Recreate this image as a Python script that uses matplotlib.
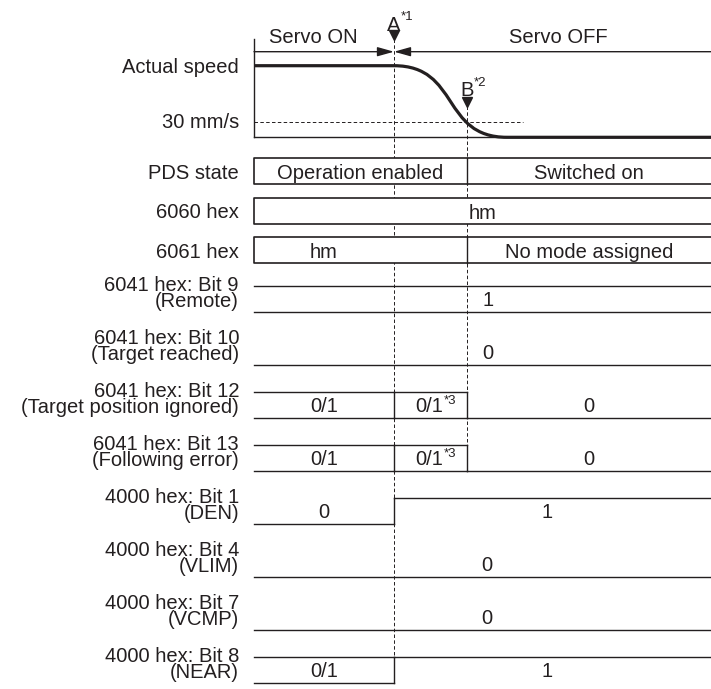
import matplotlib.pyplot as plt
from matplotlib.path import Path
from matplotlib.patches import PathPatch, Rectangle

plt.rcParams['font.family'] = ['Liberation Sans', 'DejaVu Sans']

# event times (time units from the left edge of the waveforms)
t_start = 0
t_A = 140      # servo OFF (A)
t_B = 213      # speed falls to 30 mm/s (B)
t_stop = 253   # motor stopped
t_end = 457

# actual speed (mm/s)
speed_times = [t_start, t_A, t_stop, t_end]
speed_values = [144, 144, 0, 0]
v_thresh = 30

# state / mode rows: segment edges and texts
box_names = ["PDS state", "6060 hex", "6061 hex"]
box_edges = [
    [t_start, t_B, t_end],
    [t_start, t_end],
    [t_start, t_B, t_end],
]
box_texts = [
    [("Operation enabled", 106.5), ("Switched on", 335)],
    [("hm", 228.5)],
    [("hm", 70), ("No mode assigned", 335)],
]

# bit rows: level 0 = low, 1 = high, 'x' = 0/1 (both rails)
bit_names = [
    ("6041 hex: Bit 9", "(Remote)"),
    ("6041 hex: Bit 10", "(Target reached)"),
    ("6041 hex: Bit 12", "(Target position ignored)"),
    ("6041 hex: Bit 13", "(Following error)"),
    ("4000 hex: Bit 1", "(DEN)"),
    ("4000 hex: Bit 4", "(VLIM)"),
    ("4000 hex: Bit 7", "(VCMP)"),
    ("4000 hex: Bit 8", "(NEAR)"),
]
bit_levels = [
    [(t_start, t_end, 'x')],
    [(t_start, t_end, 0)],
    [(t_start, t_A, 'x'), (t_A, t_B, 'x'), (t_B, t_end, 0)],
    [(t_start, t_A, 'x'), (t_A, t_B, 'x'), (t_B, t_end, 0)],
    [(t_start, t_A, 0), (t_A, t_end, 1)],
    [(t_start, t_end, 0)],
    [(t_start, t_end, 0)],
    [(t_start, t_A, 'x'), (t_A, t_end, 1)],
]
bit_texts = [
    [("1", 234)],
    [("0", 234)],
    [("0/1", 70), ("0/1^*3", 189), ("0", 335)],
    [("0/1", 70), ("0/1^*3", 189), ("0", 335)],
    [("0", 70), ("1", 293)],
    [("0", 233)],
    [("0", 233)],
    [("0/1", 70), ("1", 293)],
]

ink = '#231f20'
FS = 14.5
SUP = 9.5
LW = 1.0
dash = (0, (3.6, 2.4))

fig = plt.figure(figsize=(7.11, 6.89), dpi=100)
ax = fig.add_axes([0, 0, 1, 1])
ax.set_xlim(-254, 457)
ax.set_ylim(689, 0)
ax.axis('off')

label_x = -15

def put(x, y, s, **kw):
    kw.setdefault('fontsize', FS)
    kw.setdefault('color', ink)
    return ax.text(x, y, s, zorder=5, **kw)

def put_sup(x, y, s, ha='center'):
    # "main^sup" -> main text with a superscript to its right
    if '^' in s:
        main, sup = s.split('^')
        put(x, y, main, ha='right', va='baseline')
        put(x + 1, y - 8, sup, ha='left', va='baseline', fontsize=SUP)
    else:
        put(x, y, s, ha=ha, va='baseline')

# ---- actual speed panel
sp_zero, sp_top = 137.3, 65.7
def sy(v):
    return sp_zero - v * (sp_zero - sp_top) / speed_values[0]

ax.plot([t_start, t_start], [39.3, sp_zero], color=ink, lw=LW, zorder=3)
ax.plot([t_start, t_end], [sp_zero, sp_zero], color=ink, lw=LW, zorder=3)
ax.plot([t_start, 269], [sy(v_thresh), sy(v_thresh)], color=ink, lw=0.7, ls=dash, zorder=2)

ctrl = 66
verts = [(speed_times[0], sy(speed_values[0])),
         (speed_times[1], sy(speed_values[1])),
         (speed_times[1] + ctrl, sy(speed_values[1])),
         (speed_times[2] - ctrl, sy(speed_values[2])),
         (speed_times[2], sy(speed_values[2])),
         (speed_times[3], sy(speed_values[3]))]
codes = [Path.MOVETO, Path.LINETO, Path.CURVE4, Path.CURVE4, Path.CURVE4, Path.LINETO]
ax.add_patch(PathPatch(Path(verts, codes), fill=False, edgecolor=ink, lw=2.3,
                       capstyle='butt', joinstyle='round', zorder=4))

put(label_x, sy(speed_values[0]) + 7, "Actual speed", ha='right', va='baseline')
put(label_x, sy(v_thresh) + 6, "30 mm/s", ha='right', va='baseline')

# servo on / off arrows
arrow_y = 51.7
for x0 in (t_start, t_end):
    ax.annotate('', xy=(t_A, arrow_y), xytext=(x0, arrow_y),
                arrowprops=dict(arrowstyle='-|>,head_length=1.0,head_width=0.28',
                                color=ink, lw=LW, shrinkA=0, shrinkB=0,
                                mutation_scale=10), zorder=4)
put(59, 43, "Servo ON", ha='center', va='baseline')
put(304, 43, "Servo OFF", ha='center', va='baseline')

# A and B markers
ax.plot(t_A, 35.3, marker='v', ms=6.5, color=ink, mec=ink, zorder=4, ls='none')
put(t_A, 30.7, "A", ha='center', va='baseline')
put(t_A + 7, 20.5, "*1", ha='left', va='baseline', fontsize=SUP)
ax.plot(t_B, 102, marker='v', ms=6.5, color=ink, mec=ink, zorder=4, ls='none')
put(t_B, 96.5, "B", ha='center', va='baseline')
put(t_B + 7, 86.5, "*2", ha='left', va='baseline', fontsize=SUP)

# ---- state / mode boxes
box_top0, box_step, box_h = 158.3, 39.4, 26
for i, name in enumerate(box_names):
    top = box_top0 + box_step * i
    bot = top + box_h
    edges = box_edges[i]
    ax.add_patch(Rectangle((edges[0], top), edges[-1] - edges[0], box_h,
                           facecolor='white', edgecolor='none', zorder=2))
    ax.plot([edges[-1], edges[0], edges[0], edges[-1]], [top, top, bot, bot],
            color=ink, lw=1.2, zorder=3)
    for e in edges[1:-1]:
        ax.plot([e, e], [top, bot], color=ink, lw=1.0, zorder=3)
    mid = (top + bot) / 2
    put(label_x, mid + 7.5, name, ha='right', va='baseline')
    for txt, x in box_texts[i]:
        put(x, mid + 8, txt, ha='center', va='baseline')

# ---- bit rows
bit_bot0, bit_step, bit_h = 311.6, 53.0, 26
bit_bottoms = [bit_bot0 + bit_step * i for i in range(len(bit_names))]
for i, (l1, l2) in enumerate(bit_names):
    bot = bit_bottoms[i]
    top = bot - bit_h
    segs = bit_levels[i]
    for k, (a, b, lev) in enumerate(segs):
        if lev in (1, 'x'):
            ax.plot([a, b], [top, top], color=ink, lw=LW, zorder=3)
        if lev in (0, 'x'):
            ax.plot([a, b], [bot, bot], color=ink, lw=LW, zorder=3)
        if k > 0:
            ax.plot([a, a], [top, bot], color=ink, lw=LW, zorder=3)
    put(label_x, top + 21.5, l1 + "\n" + l2, ha='right', va='baseline',
        multialignment='right', linespacing=0.78)
    for txt, x in bit_texts[i]:
        put_sup(x, (top + bot) / 2 + 7, txt)

# ---- guide lines at A and B
ax.plot([t_A, t_A], [39.3, bit_bottoms[7]], color=ink, lw=0.7, ls=dash, zorder=1)
ax.plot([t_B, t_B], [106, bit_bottoms[3]], color=ink, lw=0.7, ls=dash, zorder=1)

fig.savefig('out.png', dpi=100)
